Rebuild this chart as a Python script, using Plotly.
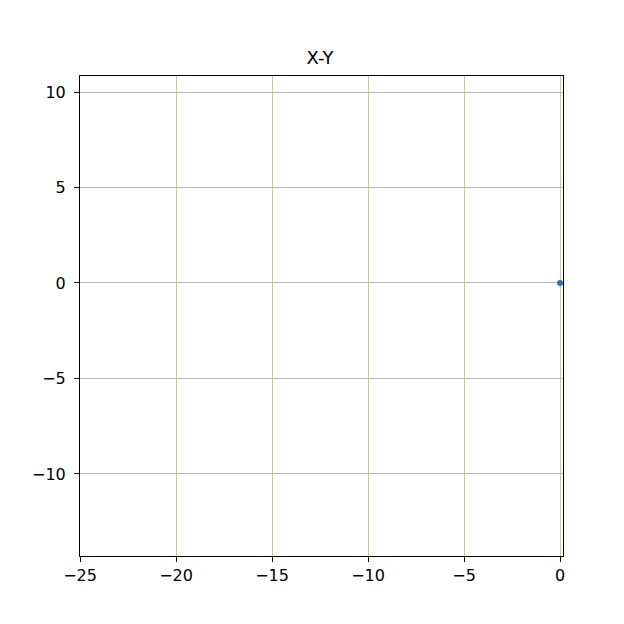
import plotly.graph_objects as go

# Data
x_values = [0.0]
y_values = [0.0]
x_ticks = [-25, -20, -15, -10, -5, 0]
y_ticks = [-10, -5, 0, 5, 10]
title_text = "X-Y"

fig = go.Figure()
fig.add_trace(go.Scatter(
    x=x_values, y=y_values, mode="markers",
    marker=dict(color="#1f77b4", size=6),
    showlegend=False,
))

axis_common = dict(
    showline=True, linecolor="black", linewidth=1, mirror=True,
    ticks="outside", ticklen=5, tickcolor="black", tickwidth=1,
    tickfont=dict(family="DejaVu Sans", size=16, color="black"),
    zeroline=False, showgrid=True, gridwidth=1,
)

fig.update_xaxes(range=[-25, 0.15], tickvals=x_ticks, gridcolor="#cdc88c", **axis_common)
fig.update_yaxes(range=[-14.3, 10.84], tickvals=y_ticks, gridcolor="#b8b8b8",
                 ticklabelstandoff=5, **axis_common)

fig.update_layout(
    width=624, height=624,
    margin=dict(l=72, r=69, t=68, b=76),
    paper_bgcolor="white", plot_bgcolor="white",
    title=dict(text=title_text, x=0.5, xanchor="center", y=1 - 50 / 624, yanchor="middle",
               font=dict(family="DejaVu Sans", size=18, color="black")),
)

fig.write_html("out.html")
